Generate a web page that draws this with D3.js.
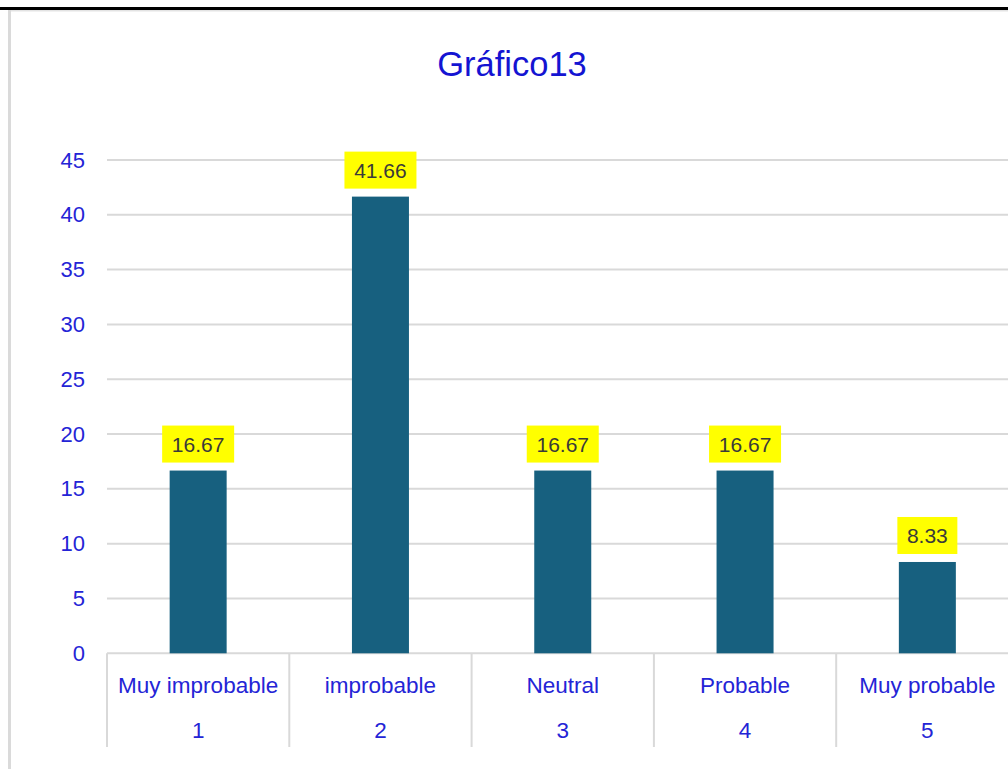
<!DOCTYPE html>
<html>
<head>
<meta charset="utf-8">
<script src="https://cdn.jsdelivr.net/npm/d3@7"></script>
<style>
  body { margin: 0; background: #fff; }
  svg { display: block; font-family: "Liberation Sans", Arial, sans-serif; }
</style>
</head>
<body>
<svg id="chart" width="1008" height="769"></svg>
<script>
// chart data
var categories = ["Muy improbable", "improbable", "Neutral", "Probable", "Muy probable"];
var codes = ["1", "2", "3", "4", "5"];
var values = [16.67, 41.66, 16.67, 16.67, 8.33];
var yTicks = [0, 5, 10, 15, 20, 25, 30, 35, 40, 45];

var W = 1008, H = 769;
var plotLeft = 107, step = 182.3, plotTop = 160, plotBottom = 653.3;
var blue = "#2424D6", barColor = "#17607F", gridColor = "#D9D9D9";

var svg = d3.select("#chart");

// frame: black top rule + gray left border
svg.append("rect").attr("x", 0).attr("y", 7).attr("width", W).attr("height", 3).attr("fill", "#000");
svg.append("rect").attr("x", 9).attr("y", 10).attr("width", W - 9).attr("height", 1.5).attr("fill", "#E3E3E3");
svg.append("rect").attr("x", 8).attr("y", 10).attr("width", 3).attr("height", H - 10).attr("fill", "#DADADA");

var x = d3.scaleBand()
    .domain(categories)
    .range([plotLeft, plotLeft + step * categories.length])
    .padding(0);

var y = d3.scaleLinear().domain([0, 45]).range([plotBottom, plotTop]);

// title
svg.append("text")
    .attr("x", 512).attr("y", 76)
    .attr("text-anchor", "middle")
    .attr("font-size", 34.5)
    .attr("fill", "#1414D2")
    .text("Gráfico13");

// gridlines
svg.append("g").selectAll("line")
  .data(yTicks)
  .enter().append("line")
    .attr("x1", plotLeft).attr("x2", W)
    .attr("y1", function(d) { return y(d); })
    .attr("y2", function(d) { return y(d); })
    .attr("stroke", gridColor)
    .attr("stroke-width", 2);

// y axis labels
var yAxis = d3.axisLeft(y).tickValues(yTicks).tickSize(0).tickPadding(0);
var yg = svg.append("g").attr("transform", "translate(85,0)").call(yAxis);
yg.select(".domain").remove();
yg.selectAll("text")
    .attr("font-size", 22)
    .attr("font-family", "Liberation Sans, Arial, sans-serif")
    .attr("fill", blue);

// bars
var barW = 57;
svg.append("g").selectAll("rect")
  .data(values)
  .enter().append("rect")
    .attr("x", function(d, i) { return x(categories[i]) + x.bandwidth() / 2 - barW / 2; })
    .attr("y", function(d) { return y(d); })
    .attr("width", barW)
    .attr("height", function(d) { return plotBottom - y(d); })
    .attr("fill", barColor);

// data labels with yellow boxes
var lab = svg.append("g").selectAll("g")
  .data(values)
  .enter().append("g")
    .attr("transform", function(d, i) {
      return "translate(" + (x(categories[i]) + x.bandwidth() / 2) + "," + (y(d) - 8) + ")";
    });
lab.append("rect")
    .attr("x", function(d) { return d >= 10 ? -36 : -30; })
    .attr("y", -37)
    .attr("width", function(d) { return d >= 10 ? 72 : 60; })
    .attr("height", 37)
    .attr("fill", "#FFFF00");
lab.append("text")
    .attr("y", -11)
    .attr("text-anchor", "middle")
    .attr("font-size", 21)
    .attr("fill", "#3A3A3A")
    .text(function(d) { return d3.format(".2f")(d); });

// category axis: separators and two label rows
var sepX = categories.map(function(c) { return x(c); });
svg.append("g").selectAll("line")
  .data(sepX)
  .enter().append("line")
    .attr("x1", function(d) { return d; }).attr("x2", function(d) { return d; })
    .attr("y1", plotBottom).attr("y2", 747)
    .attr("stroke", gridColor)
    .attr("stroke-width", 2);

svg.append("g").selectAll("text")
  .data(categories)
  .enter().append("text")
    .attr("x", function(d) { return x(d) + x.bandwidth() / 2; })
    .attr("y", 693)
    .attr("text-anchor", "middle")
    .attr("font-size", 22.5)
    .attr("fill", blue)
    .text(function(d) { return d; });

svg.append("g").selectAll("text")
  .data(codes)
  .enter().append("text")
    .attr("x", function(d, i) { return x(categories[i]) + x.bandwidth() / 2; })
    .attr("y", 738)
    .attr("text-anchor", "middle")
    .attr("font-size", 22.5)
    .attr("fill", blue)
    .text(function(d) { return d; });
</script>
</body>
</html>
